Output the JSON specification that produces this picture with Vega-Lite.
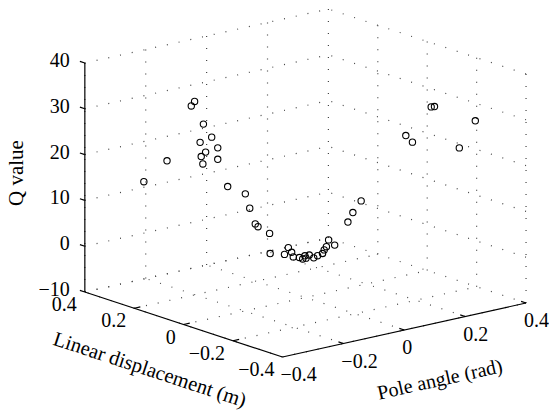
{
  "$schema": "https://vega.github.io/schema/vega-lite/v6.json",
  "autosize": {"type": "fit", "contains": "padding"},
  "width": 549,
  "height": 417,
  "padding": 0,
  "background": "white",
  "view": {"stroke": null},
  "config": {"text": {"font": "Liberation Serif", "fontSize": 20, "color": "black"}},
  "datasets": {
    "grid": [
      {"d1": -0.4, "a1": -0.4, "z1": -10, "d2": -0.4, "a2": 0.4, "z2": -10},
      {"d1": -0.2, "a1": -0.4, "z1": -10, "d2": -0.2, "a2": 0.4, "z2": -10},
      {"d1": 0, "a1": -0.4, "z1": -10, "d2": 0, "a2": 0.4, "z2": -10},
      {"d1": 0.2, "a1": -0.4, "z1": -10, "d2": 0.2, "a2": 0.4, "z2": -10},
      {"d1": 0.4, "a1": -0.4, "z1": -10, "d2": 0.4, "a2": 0.4, "z2": -10},
      {"d1": -0.4, "a1": -0.4, "z1": -10, "d2": 0.4, "a2": -0.4, "z2": -10},
      {"d1": -0.4, "a1": -0.2, "z1": -10, "d2": 0.4, "a2": -0.2, "z2": -10},
      {"d1": -0.4, "a1": 0, "z1": -10, "d2": 0.4, "a2": 0, "z2": -10},
      {"d1": -0.4, "a1": 0.2, "z1": -10, "d2": 0.4, "a2": 0.2, "z2": -10},
      {"d1": -0.4, "a1": 0.4, "z1": -10, "d2": 0.4, "a2": 0.4, "z2": -10},
      {"d1": 0.4, "a1": -0.4, "z1": -10, "d2": 0.4, "a2": -0.4, "z2": 40},
      {"d1": 0.4, "a1": -0.2, "z1": -10, "d2": 0.4, "a2": -0.2, "z2": 40},
      {"d1": 0.4, "a1": 0, "z1": -10, "d2": 0.4, "a2": 0, "z2": 40},
      {"d1": 0.4, "a1": 0.2, "z1": -10, "d2": 0.4, "a2": 0.2, "z2": 40},
      {"d1": 0.4, "a1": 0.4, "z1": -10, "d2": 0.4, "a2": 0.4, "z2": 40},
      {"d1": 0.4, "a1": -0.4, "z1": -10, "d2": 0.4, "a2": 0.4, "z2": -10},
      {"d1": 0.4, "a1": -0.4, "z1": 0, "d2": 0.4, "a2": 0.4, "z2": 0},
      {"d1": 0.4, "a1": -0.4, "z1": 10, "d2": 0.4, "a2": 0.4, "z2": 10},
      {"d1": 0.4, "a1": -0.4, "z1": 20, "d2": 0.4, "a2": 0.4, "z2": 20},
      {"d1": 0.4, "a1": -0.4, "z1": 30, "d2": 0.4, "a2": 0.4, "z2": 30},
      {"d1": 0.4, "a1": -0.4, "z1": 40, "d2": 0.4, "a2": 0.4, "z2": 40},
      {"d1": -0.4, "a1": 0.4, "z1": -10, "d2": -0.4, "a2": 0.4, "z2": 40},
      {"d1": -0.2, "a1": 0.4, "z1": -10, "d2": -0.2, "a2": 0.4, "z2": 40},
      {"d1": 0, "a1": 0.4, "z1": -10, "d2": 0, "a2": 0.4, "z2": 40},
      {"d1": 0.2, "a1": 0.4, "z1": -10, "d2": 0.2, "a2": 0.4, "z2": 40},
      {"d1": -0.4, "a1": 0.4, "z1": 0, "d2": 0.4, "a2": 0.4, "z2": 0},
      {"d1": -0.4, "a1": 0.4, "z1": 10, "d2": 0.4, "a2": 0.4, "z2": 10},
      {"d1": -0.4, "a1": 0.4, "z1": 20, "d2": 0.4, "a2": 0.4, "z2": 20},
      {"d1": -0.4, "a1": 0.4, "z1": 30, "d2": 0.4, "a2": 0.4, "z2": 30},
      {"d1": -0.4, "a1": 0.4, "z1": 40, "d2": 0.4, "a2": 0.4, "z2": 40}
    ],
    "axes": [
      {"d1": 0.4, "a1": -0.4, "z1": -10, "d2": 0.4, "a2": -0.4, "z2": 40},
      {"d1": 0.4, "a1": -0.4, "z1": -10, "d2": -0.4, "a2": -0.4, "z2": -10},
      {"d1": -0.4, "a1": -0.4, "z1": -10, "d2": -0.4, "a2": 0.4, "z2": -10},
      {"d1": 0.4, "a1": -0.4, "z1": -10, "d2": 0.42, "a2": -0.4, "z2": -10},
      {"d1": 0.4, "a1": -0.4, "z1": 0, "d2": 0.42, "a2": -0.4, "z2": 0},
      {"d1": 0.4, "a1": -0.4, "z1": 10, "d2": 0.42, "a2": -0.4, "z2": 10},
      {"d1": 0.4, "a1": -0.4, "z1": 20, "d2": 0.42, "a2": -0.4, "z2": 20},
      {"d1": 0.4, "a1": -0.4, "z1": 30, "d2": 0.42, "a2": -0.4, "z2": 30},
      {"d1": 0.4, "a1": -0.4, "z1": 40, "d2": 0.42, "a2": -0.4, "z2": 40},
      {"d1": 0.2, "a1": -0.4, "z1": -10, "d2": 0.2, "a2": -0.38, "z2": -10},
      {"d1": 0, "a1": -0.4, "z1": -10, "d2": 0, "a2": -0.38, "z2": -10},
      {"d1": -0.2, "a1": -0.4, "z1": -10, "d2": -0.2, "a2": -0.38, "z2": -10},
      {"d1": -0.4, "a1": -0.2, "z1": -10, "d2": -0.38, "a2": -0.2, "z2": -10},
      {"d1": -0.4, "a1": 0, "z1": -10, "d2": -0.38, "a2": 0, "z2": -10},
      {"d1": -0.4, "a1": 0.2, "z1": -10, "d2": -0.38, "a2": 0.2, "z2": -10},
      {"d1": -0.4, "a1": 0.4, "z1": -10, "d2": -0.38, "a2": 0.4, "z2": -10}
    ],
    "zlabels": [
      {"d": 0.4, "a": -0.4, "z": -10, "label": "−10"},
      {"d": 0.4, "a": -0.4, "z": 0, "label": "0"},
      {"d": 0.4, "a": -0.4, "z": 10, "label": "10"},
      {"d": 0.4, "a": -0.4, "z": 20, "label": "20"},
      {"d": 0.4, "a": -0.4, "z": 30, "label": "30"},
      {"d": 0.4, "a": -0.4, "z": 40, "label": "40"}
    ],
    "dlabels": [
      {"d": 0.4, "a": -0.4, "z": -10, "label": "0.4"},
      {"d": 0.2, "a": -0.4, "z": -10, "label": "0.2"},
      {"d": 0, "a": -0.4, "z": -10, "label": "0"},
      {"d": -0.2, "a": -0.4, "z": -10, "label": "−0.2"},
      {"d": -0.4, "a": -0.4, "z": -10, "label": "−0.4"}
    ],
    "alabels": [
      {"d": -0.4, "a": -0.4, "z": -10, "label": "−0.4"},
      {"d": -0.4, "a": -0.2, "z": -10, "label": "−0.2"},
      {"d": -0.4, "a": 0, "z": -10, "label": "0"},
      {"d": -0.4, "a": 0.2, "z": -10, "label": "0.2"},
      {"d": -0.4, "a": 0.4, "z": -10, "label": "0.4"}
    ],
    "points": [
      {"d": 0.201, "a": -0.201, "q": 32.2},
      {"d": 0.207, "a": -0.207, "q": 31.2},
      {"d": 0.185, "a": -0.185, "q": 27.3},
      {"d": 0.170, "a": -0.170, "q": 24.5},
      {"d": 0.191, "a": -0.191, "q": 23.3},
      {"d": 0.159, "a": -0.159, "q": 22.2},
      {"d": 0.181, "a": -0.181, "q": 21.2},
      {"d": 0.189, "a": -0.189, "q": 20.2},
      {"d": 0.159, "a": -0.159, "q": 19.7},
      {"d": 0.186, "a": -0.186, "q": 18.6},
      {"d": 0.251, "a": -0.251, "q": 19.1},
      {"d": 0.293, "a": -0.293, "q": 14.4},
      {"d": 0.141, "a": -0.141, "q": 13.8},
      {"d": 0.109, "a": -0.109, "q": 12.3},
      {"d": 0.101, "a": -0.101, "q": 9.2},
      {"d": 0.091, "a": -0.091, "q": 5.8},
      {"d": 0.086, "a": -0.086, "q": 5.2},
      {"d": 0.065, "a": -0.065, "q": 3.8},
      {"d": 0.064, "a": -0.064, "q": -0.6},
      {"d": 0.038, "a": -0.038, "q": -0.7},
      {"d": 0.031, "a": -0.031, "q": 0.8},
      {"d": 0.025, "a": -0.025, "q": -0.2},
      {"d": 0.022, "a": -0.022, "q": -1.2},
      {"d": 0.011, "a": -0.011, "q": -1.3},
      {"d": 0.005, "a": -0.005, "q": -1.6},
      {"d": -0.001, "a": 0.001, "q": -1.4},
      {"d": 0.001, "a": -0.001, "q": -0.9},
      {"d": -0.007, "a": 0.007, "q": -0.7},
      {"d": -0.015, "a": 0.015, "q": -1.3},
      {"d": -0.022, "a": 0.022, "q": -0.8},
      {"d": -0.031, "a": 0.031, "q": -0.3},
      {"d": -0.034, "a": 0.034, "q": 0.5},
      {"d": -0.038, "a": 0.038, "q": 1.2},
      {"d": -0.042, "a": 0.042, "q": 2.7},
      {"d": -0.053, "a": 0.053, "q": 1.6},
      {"d": -0.077, "a": 0.077, "q": 6.7},
      {"d": -0.086, "a": 0.086, "q": 8.8},
      {"d": -0.101, "a": 0.101, "q": 11.4},
      {"d": -0.228, "a": 0.228, "q": 32.3},
      {"d": -0.234, "a": 0.234, "q": 32.4},
      {"d": -0.308, "a": 0.308, "q": 29.5},
      {"d": -0.182, "a": 0.182, "q": 25.9},
      {"d": -0.194, "a": 0.194, "q": 24.5},
      {"d": -0.279, "a": 0.279, "q": 23.5}
    ],
    "titles": [
      {"d": 0.4, "a": -0.4, "z": 15, "label": "Q value"},
      {"d": 0, "a": -0.4, "z": -10, "label": "Linear displacement (m)"},
      {"d": -0.4, "a": 0, "z": -10, "label": "Pole angle (rad)"}
    ]
  },
  "layer": [
    {
      "data": {"name": "grid"},
      "transform": [
        {"calculate": "85 + 247.5*(0.4-datum.d1) + 305*(datum.a1+0.4)", "as": "x1"},
        {"calculate": "292 + 81.25*(0.4-datum.d1) - 67.5*(datum.a1+0.4) - 4.58*(datum.z1+10)", "as": "y1"},
        {"calculate": "85 + 247.5*(0.4-datum.d2) + 305*(datum.a2+0.4)", "as": "x2"},
        {"calculate": "292 + 81.25*(0.4-datum.d2) - 67.5*(datum.a2+0.4) - 4.58*(datum.z2+10)", "as": "y2"}
      ],
      "mark": {"type": "rule", "stroke": "#444444", "strokeWidth": 1.2, "strokeDash": [1, 11]},
      "encoding": {
        "x": {"field": "x1", "type": "quantitative", "scale": {"domain": [0, 549], "nice": false, "zero": false}, "axis": null},
        "y": {"field": "y1", "type": "quantitative", "scale": {"domain": [0, 417], "nice": false, "zero": false, "reverse": true}, "axis": null},
        "x2": {"field": "x2"},
        "y2": {"field": "y2"}
      }
    },
    {
      "data": {"name": "axes"},
      "transform": [
        {"calculate": "85 + 247.5*(0.4-datum.d1) + 305*(datum.a1+0.4)", "as": "x1"},
        {"calculate": "292 + 81.25*(0.4-datum.d1) - 67.5*(datum.a1+0.4) - 4.58*(datum.z1+10)", "as": "y1"},
        {"calculate": "85 + 247.5*(0.4-datum.d2) + 305*(datum.a2+0.4)", "as": "x2"},
        {"calculate": "292 + 81.25*(0.4-datum.d2) - 67.5*(datum.a2+0.4) - 4.58*(datum.z2+10)", "as": "y2"}
      ],
      "mark": {"type": "rule", "stroke": "black", "strokeWidth": 1.2},
      "encoding": {
        "x": {"field": "x1", "type": "quantitative", "scale": {"domain": [0, 549], "nice": false, "zero": false}, "axis": null},
        "y": {"field": "y1", "type": "quantitative", "scale": {"domain": [0, 417], "nice": false, "zero": false, "reverse": true}, "axis": null},
        "x2": {"field": "x2"},
        "y2": {"field": "y2"}
      }
    },
    {
      "data": {"name": "points"},
      "transform": [
        {"calculate": "85 + 247.5*(0.4-datum.d) + 305*(datum.a+0.4)", "as": "px"},
        {"calculate": "292 + 81.25*(0.4-datum.d) - 67.5*(datum.a+0.4) - 4.58*(datum.q+10)", "as": "py"}
      ],
      "mark": {"type": "point", "shape": "circle", "filled": false, "stroke": "black", "strokeWidth": 1.1, "size": 40, "opacity": 1},
      "encoding": {
        "x": {"field": "px", "type": "quantitative", "scale": {"domain": [0, 549], "nice": false, "zero": false}, "axis": null},
        "y": {"field": "py", "type": "quantitative", "scale": {"domain": [0, 417], "nice": false, "zero": false, "reverse": true}, "axis": null}
      }
    },
    {
      "data": {"name": "zlabels"},
      "transform": [
        {"calculate": "85 + 247.5*(0.4-datum.d) + 305*(datum.a+0.4)", "as": "px"},
        {"calculate": "292 + 81.25*(0.4-datum.d) - 67.5*(datum.a+0.4) - 4.58*(datum.z+10)", "as": "py"}
      ],
      "mark": {"type": "text", "align": "right", "baseline": "middle", "dx": -15, "dy": -2},
      "encoding": {
        "x": {"field": "px", "type": "quantitative", "scale": {"domain": [0, 549], "nice": false, "zero": false}, "axis": null},
        "y": {"field": "py", "type": "quantitative", "scale": {"domain": [0, 417], "nice": false, "zero": false, "reverse": true}, "axis": null},
        "text": {"field": "label"}
      }
    },
    {
      "data": {"name": "dlabels"},
      "transform": [
        {"calculate": "85 + 247.5*(0.4-datum.d) + 305*(datum.a+0.4)", "as": "px"},
        {"calculate": "292 + 81.25*(0.4-datum.d) - 67.5*(datum.a+0.4) - 4.58*(datum.z+10)", "as": "py"}
      ],
      "mark": {"type": "text", "align": "right", "baseline": "middle", "dx": -8, "dy": 13},
      "encoding": {
        "x": {"field": "px", "type": "quantitative", "scale": {"domain": [0, 549], "nice": false, "zero": false}, "axis": null},
        "y": {"field": "py", "type": "quantitative", "scale": {"domain": [0, 417], "nice": false, "zero": false, "reverse": true}, "axis": null},
        "text": {"field": "label"}
      }
    },
    {
      "data": {"name": "alabels"},
      "transform": [
        {"calculate": "85 + 247.5*(0.4-datum.d) + 305*(datum.a+0.4)", "as": "px"},
        {"calculate": "292 + 81.25*(0.4-datum.d) - 67.5*(datum.a+0.4) - 4.58*(datum.z+10)", "as": "py"}
      ],
      "mark": {"type": "text", "align": "left", "baseline": "middle", "dx": -2, "dy": 18},
      "encoding": {
        "x": {"field": "px", "type": "quantitative", "scale": {"domain": [0, 549], "nice": false, "zero": false}, "axis": null},
        "y": {"field": "py", "type": "quantitative", "scale": {"domain": [0, 417], "nice": false, "zero": false, "reverse": true}, "axis": null},
        "text": {"field": "label"}
      }
    },
    {
      "data": {"name": "titles"},
      "transform": [
        {"filter": "datum.label == 'Q value'"},
        {"calculate": "85 + 247.5*(0.4-datum.d) + 305*(datum.a+0.4)", "as": "px"},
        {"calculate": "292 + 81.25*(0.4-datum.d) - 67.5*(datum.a+0.4) - 4.58*(datum.z+10)", "as": "py"}
      ],
      "mark": {"type": "text", "align": "center", "baseline": "middle", "angle": 270, "fontSize": 21, "dx": 4.5, "dy": -68},
      "encoding": {
        "x": {"field": "px", "type": "quantitative", "scale": {"domain": [0, 549], "nice": false, "zero": false}, "axis": null},
        "y": {"field": "py", "type": "quantitative", "scale": {"domain": [0, 417], "nice": false, "zero": false, "reverse": true}, "axis": null},
        "text": {"field": "label"}
      }
    },
    {
      "data": {"name": "titles"},
      "transform": [
        {"filter": "datum.label == 'Linear displacement (m)'"},
        {"calculate": "85 + 247.5*(0.4-datum.d) + 305*(datum.a+0.4)", "as": "px"},
        {"calculate": "292 + 81.25*(0.4-datum.d) - 67.5*(datum.a+0.4) - 4.58*(datum.z+10)", "as": "py"}
      ],
      "mark": {"type": "text", "align": "center", "baseline": "middle", "angle": 18.2, "fontSize": 20.5, "dx": -18, "dy": 54},
      "encoding": {
        "x": {"field": "px", "type": "quantitative", "scale": {"domain": [0, 549], "nice": false, "zero": false}, "axis": null},
        "y": {"field": "py", "type": "quantitative", "scale": {"domain": [0, 417], "nice": false, "zero": false, "reverse": true}, "axis": null},
        "text": {"field": "label"}
      }
    },
    {
      "data": {"name": "titles"},
      "transform": [
        {"filter": "datum.label == 'Pole angle (rad)'"},
        {"calculate": "85 + 247.5*(0.4-datum.d) + 305*(datum.a+0.4)", "as": "px"},
        {"calculate": "292 + 81.25*(0.4-datum.d) - 67.5*(datum.a+0.4) - 4.58*(datum.z+10)", "as": "py"}
      ],
      "mark": {"type": "text", "align": "center", "baseline": "middle", "angle": 347.5, "fontSize": 20, "dx": 24, "dy": 56.5},
      "encoding": {
        "x": {"field": "px", "type": "quantitative", "scale": {"domain": [0, 549], "nice": false, "zero": false}, "axis": null},
        "y": {"field": "py", "type": "quantitative", "scale": {"domain": [0, 417], "nice": false, "zero": false, "reverse": true}, "axis": null},
        "text": {"field": "label"}
      }
    }
  ]
}
